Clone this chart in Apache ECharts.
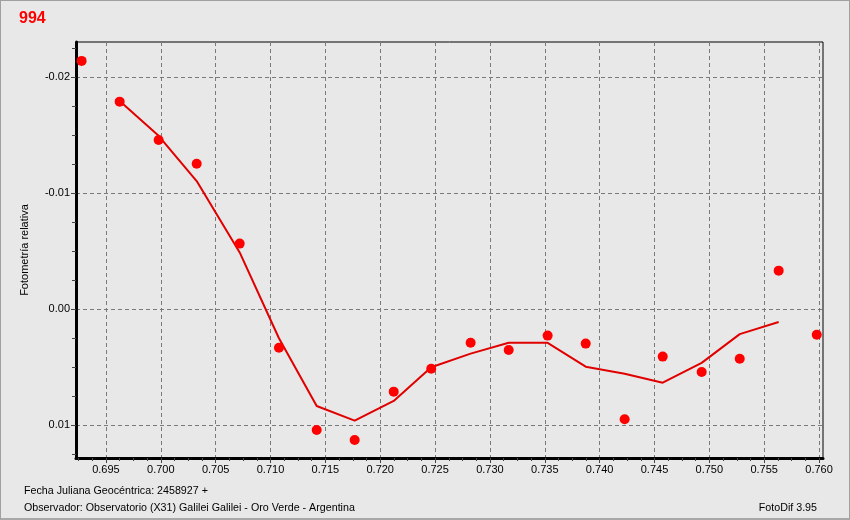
<!DOCTYPE html>
<html>
<head>
<meta charset="utf-8">
<script src="https://cdn.jsdelivr.net/npm/echarts@6/dist/echarts.min.js"></script>
<style>
  html, body { margin: 0; padding: 0; background: #e8e8e8; }
  #wrap { position: relative; width: 850px; height: 520px; box-sizing: border-box; border: 1px solid #a0a0a0; border-bottom: 2px solid #a8a8a8; background: #e8e8e8; }
  #chart { position: absolute; left: -1px; top: -1px; width: 850px; height: 520px; }
</style>
</head>
<body>
<div id="wrap"><div id="chart"></div></div>
<script>
// Observation times (JD fraction, + 2458927)
const jdFrac = [0.69278, 0.69625, 0.69980, 0.70327, 0.70719, 0.71077, 0.71421, 0.71767, 0.72123, 0.72465,
                0.72824, 0.73171, 0.73526, 0.73873, 0.74228, 0.74575, 0.74930, 0.75277, 0.75632, 0.75979];
// Relative photometry of each point
const relPhot = [-0.02141, -0.01790, -0.01459, -0.01255, -0.00566, 0.00331, 0.01041, 0.01127, 0.00710, 0.00512,
                  0.00288, 0.00351, 0.00227, 0.00296, 0.00948, 0.00408, 0.00541, 0.00426, -0.00333, 0.00219];
// Smoothed curve, at points 2..19
const curveX = [0.69625, 0.69980, 0.70327, 0.70719, 0.71077, 0.71421, 0.71767, 0.72123, 0.72465,
                0.72824, 0.73171, 0.73526, 0.73873, 0.74228, 0.74575, 0.74930, 0.75277, 0.75632];
const curveY = [-0.01795, -0.01495, -0.01105, -0.00490, 0.00250, 0.00834, 0.00960, 0.00790, 0.00500,
                 0.00382, 0.00288, 0.00289, 0.00495, 0.00555, 0.00633, 0.00462, 0.00214, 0.00110];
// Tick labels
const xTicks = [0.695, 0.700, 0.705, 0.710, 0.715, 0.720, 0.725, 0.730, 0.735, 0.740, 0.745, 0.750, 0.755, 0.760];
const yTicks = [-0.02, -0.01, 0.00, 0.01];
const xRange = [0.69227, 0.76036];
const yRange = [-0.02304, 0.01282];

const xMinor = [];
for (let i = -2; i <= 13 * 4 + 1; i++) {
  const v = +(0.695 + i * 0.00125).toFixed(5);
  if (v > xRange[0] && v < xRange[1] && i % 4 !== 0) xMinor.push(v);
}
const yMinor = [];
for (let i = -9; i <= 5; i++) {
  const v = +(i * 0.0025).toFixed(5);
  if (v > yRange[0] && v < yRange[1] && i % 4 !== 0) yMinor.push(v);
}

const FONT = 'Liberation Sans, Arial, sans-serif';
const chart = echarts.init(document.getElementById('chart'), null, { renderer: 'canvas' });
const lbl = { color: '#000', fontFamily: FONT, fontSize: 11 };

chart.setOption({
  backgroundColor: 'transparent',
  animation: false,
  grid: { left: 76, right: 27, top: 42, bottom: 62, show: true, borderColor: '#000', borderWidth: 1, outerBoundsMode: 'none' },
  xAxis: [
    {
      type: 'value', min: xRange[0], max: xRange[1], position: 'bottom',
      axisLine: { show: true, onZero: false, lineStyle: { color: '#000', width: 3 } },
      axisTick: { show: true, customValues: xTicks, length: 5, lineStyle: { color: '#444' } },
      axisLabel: Object.assign({ customValues: xTicks, margin: 6, formatter: v => v.toFixed(3) }, lbl),
      splitLine: { show: true, lineStyle: { color: '#7a7a7a', type: [4, 3], width: 1 } }
    },
    {
      type: 'value', min: xRange[0], max: xRange[1], position: 'bottom',
      axisLine: { show: false, onZero: false },
      axisTick: { show: true, customValues: xMinor, length: 3, lineStyle: { color: '#444' } },
      axisLabel: { show: false },
      splitLine: { show: false }
    }
  ],
  yAxis: [
    {
      type: 'value', inverse: true, min: yRange[0], max: yRange[1], position: 'left',
      name: 'Fotometría relativa', nameLocation: 'middle', nameGap: 46,
      nameTextStyle: { color: '#000', fontFamily: FONT, fontSize: 11 },
      axisLine: { show: true, onZero: false, lineStyle: { color: '#000', width: 3 } },
      axisTick: { show: true, customValues: yTicks, length: 5, lineStyle: { color: '#444' } },
      axisLabel: Object.assign({ customValues: yTicks, margin: 6, formatter: v => v.toFixed(2) }, lbl),
      splitLine: { show: true, lineStyle: { color: '#7a7a7a', type: [4, 3], width: 1 } }
    },
    {
      type: 'value', inverse: true, min: yRange[0], max: yRange[1], position: 'left',
      axisLine: { show: false, onZero: false },
      axisTick: { show: true, customValues: yMinor, length: 4, lineStyle: { color: '#444' } },
      axisLabel: { show: false },
      splitLine: { show: false }
    }
  ],
  series: [
    {
      type: 'line', xAxisIndex: 0, yAxisIndex: 0,
      data: curveX.map((x, i) => [x, curveY[i]]),
      showSymbol: false, symbol: 'none',
      lineStyle: { color: '#e00000', width: 2 },
      z: 2
    },
    {
      type: 'scatter', xAxisIndex: 0, yAxisIndex: 0,
      data: jdFrac.map((x, i) => [x, relPhot[i]]),
      symbol: 'circle', symbolSize: 10,
      itemStyle: { color: '#ff0000', opacity: 1 },
      z: 3
    }
  ],
  graphic: [
    { type: 'text', left: 19, top: 11, style: { text: '994', fill: '#ff0000', font: 'bold 16px ' + FONT } },
    { type: 'text', left: 24, top: 486, style: { text: 'Fecha Juliana Geocéntrica: 2458927 +', fill: '#000', font: '10.7px ' + FONT } },
    { type: 'text', left: 24, top: 503, style: { text: 'Observador: Observatorio (X31) Galilei Galilei - Oro Verde - Argentina', fill: '#000', font: '10.7px ' + FONT } },
    { type: 'text', right: 33, top: 503, style: { text: 'FotoDif 3.95', fill: '#000', font: '10.7px ' + FONT } }
  ]
});
</script>
</body>
</html>
